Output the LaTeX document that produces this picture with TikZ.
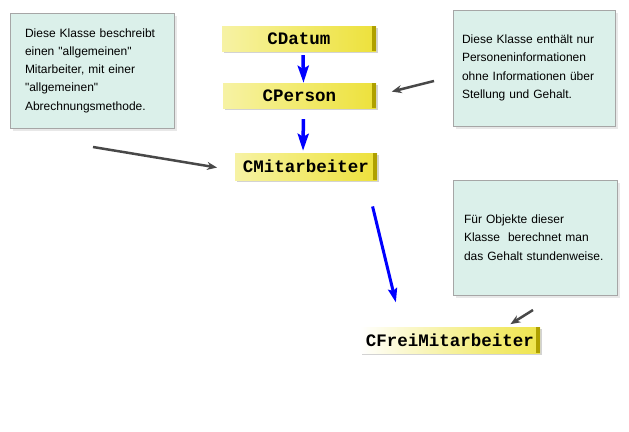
\documentclass[tikz,border=0pt]{standalone}
\usepackage{fontspec}
\setmainfont{Liberation Sans}
\setmonofont{Liberation Mono}
\usetikzlibrary{arrows.meta,shadows,calc}

\definecolor{klassgelb}{RGB}{232,216,8}
\definecolor{klassmitte}{RGB}{243,236,120}
\definecolor{klasshell}{RGB}{251,250,220}
\definecolor{klasskante}{RGB}{175,160,0}
\definecolor{notizgruen}{RGB}{219,240,234}
\definecolor{pfeilgrau}{RGB}{72,72,72}

\pgfdeclarehorizontalshading{klassverlauf}{100bp}{color(0bp)=(klasshell); color(45bp)=(klassmitte); color(100bp)=(klassgelb)}
\pgfdeclarehorizontalshading{freiverlauf}{100bp}{color(0bp)=(white); color(25bp)=(white); color(60bp)=(klassmitte); color(100bp)=(klassgelb)}

\tikzset{
    klasse/.style={minimum height=25pt, inner sep=0pt, shading=klassverlauf,
        font=\ttfamily\bfseries\fontsize{17.5}{18}\selectfont,
        drop shadow={shadow xshift=2pt, shadow yshift=-2pt, opacity=0.35},
        path picture={\fill[klasskante] ([xshift=-4pt]path picture bounding box.north east) rectangle (path picture bounding box.south east);}},
    notiz/.style={fill=notizgruen, draw=gray!70, align=left, inner ysep=0pt,
        font=\fontsize{12}{18.3}\selectfont,
        drop shadow={shadow xshift=3pt, shadow yshift=-3pt, opacity=0.18}},
    erbt/.style={-{Stealth[length=17pt,width=11pt,inset=3pt]}, line width=3.5pt, blue},
    hinweis/.style={-{Stealth[length=10pt,width=8pt]}, line width=2.5pt, pfeilgrau}
}

\begin{document}
\begin{tikzpicture}[x=1pt, y=-1pt]
        \useasboundingbox (0,0) rectangle (629,431);

        % we draw the classes of the hierarchy
        \node[klasse, minimum width=154pt] (datum) at (299,38.5) {CDatum};
        \node[klasse, minimum width=153pt] (person) at (299.5,95.5) {CPerson};
        \node[klasse, minimum width=142pt, minimum height=27pt] (mitarbeiter) at (306,166.5) {CMitarbeiter};
        \node[klasse, minimum width=180pt, minimum height=26pt, shading=freiverlauf] (frei) at (450,340) {CFreiMitarbeiter};

        % we draw the notes
        \node[notiz, text width=134pt, inner xsep=15pt, minimum height=115pt] (notizmit) at (92,70.5)
            {Diese Klasse beschreibt\\einen \textquotedbl allgemeinen\textquotedbl\\Mitarbeiter, mit einer\\\textquotedbl allgemeinen\textquotedbl\\Abrechnungsmethode.};
        \node[notiz, text width=144pt, inner xsep=9pt, minimum height=116pt] (notizper) at (534,68)
            {Diese Klasse enthält nur\\Personeninformationen\\ohne Informationen über\\Stellung und Gehalt.};
        \node[notiz, text width=142pt, inner xsep=11pt, minimum height=115pt] (notizfrei) at (535,237.5)
            {Für Objekte dieser\\Klasse~ berechnet man\\das Gehalt stundenweise.};

        % we draw the inheritance arrows
        \draw[erbt, shorten <=4pt] ([xshift=4pt]datum.south) -- ([xshift=4pt]person.north);
        \draw[erbt, shorten <=11pt, shorten >=2pt] ([xshift=4pt]person.south) -- ([xshift=-3pt]mitarbeiter.north);
        \draw[erbt, line width=3pt, -{Stealth[length=14pt,width=9pt,inset=2pt]}, shorten <=27pt, shorten >=25pt]
            ($(mitarbeiter.south east)+(-11,0)$) -- ($(frei.north west)+(42,0)$);

        % we point from the notes to the classes
        \coordinate (k1) at (93,147);
        \coordinate (k2) at (434,81);
        \coordinate (k3) at (533,310);
        \draw[hinweis, shorten >=18pt] (k1) -- ($(mitarbeiter.west)+(0,4)$);
        \draw[hinweis, shorten >=16pt] (k2) -- (person.east);
        \draw[hinweis, shorten >=5pt] (k3) -- ($(frei.north east)+(-34,0)$);
    \end{tikzpicture}
\end{document}
